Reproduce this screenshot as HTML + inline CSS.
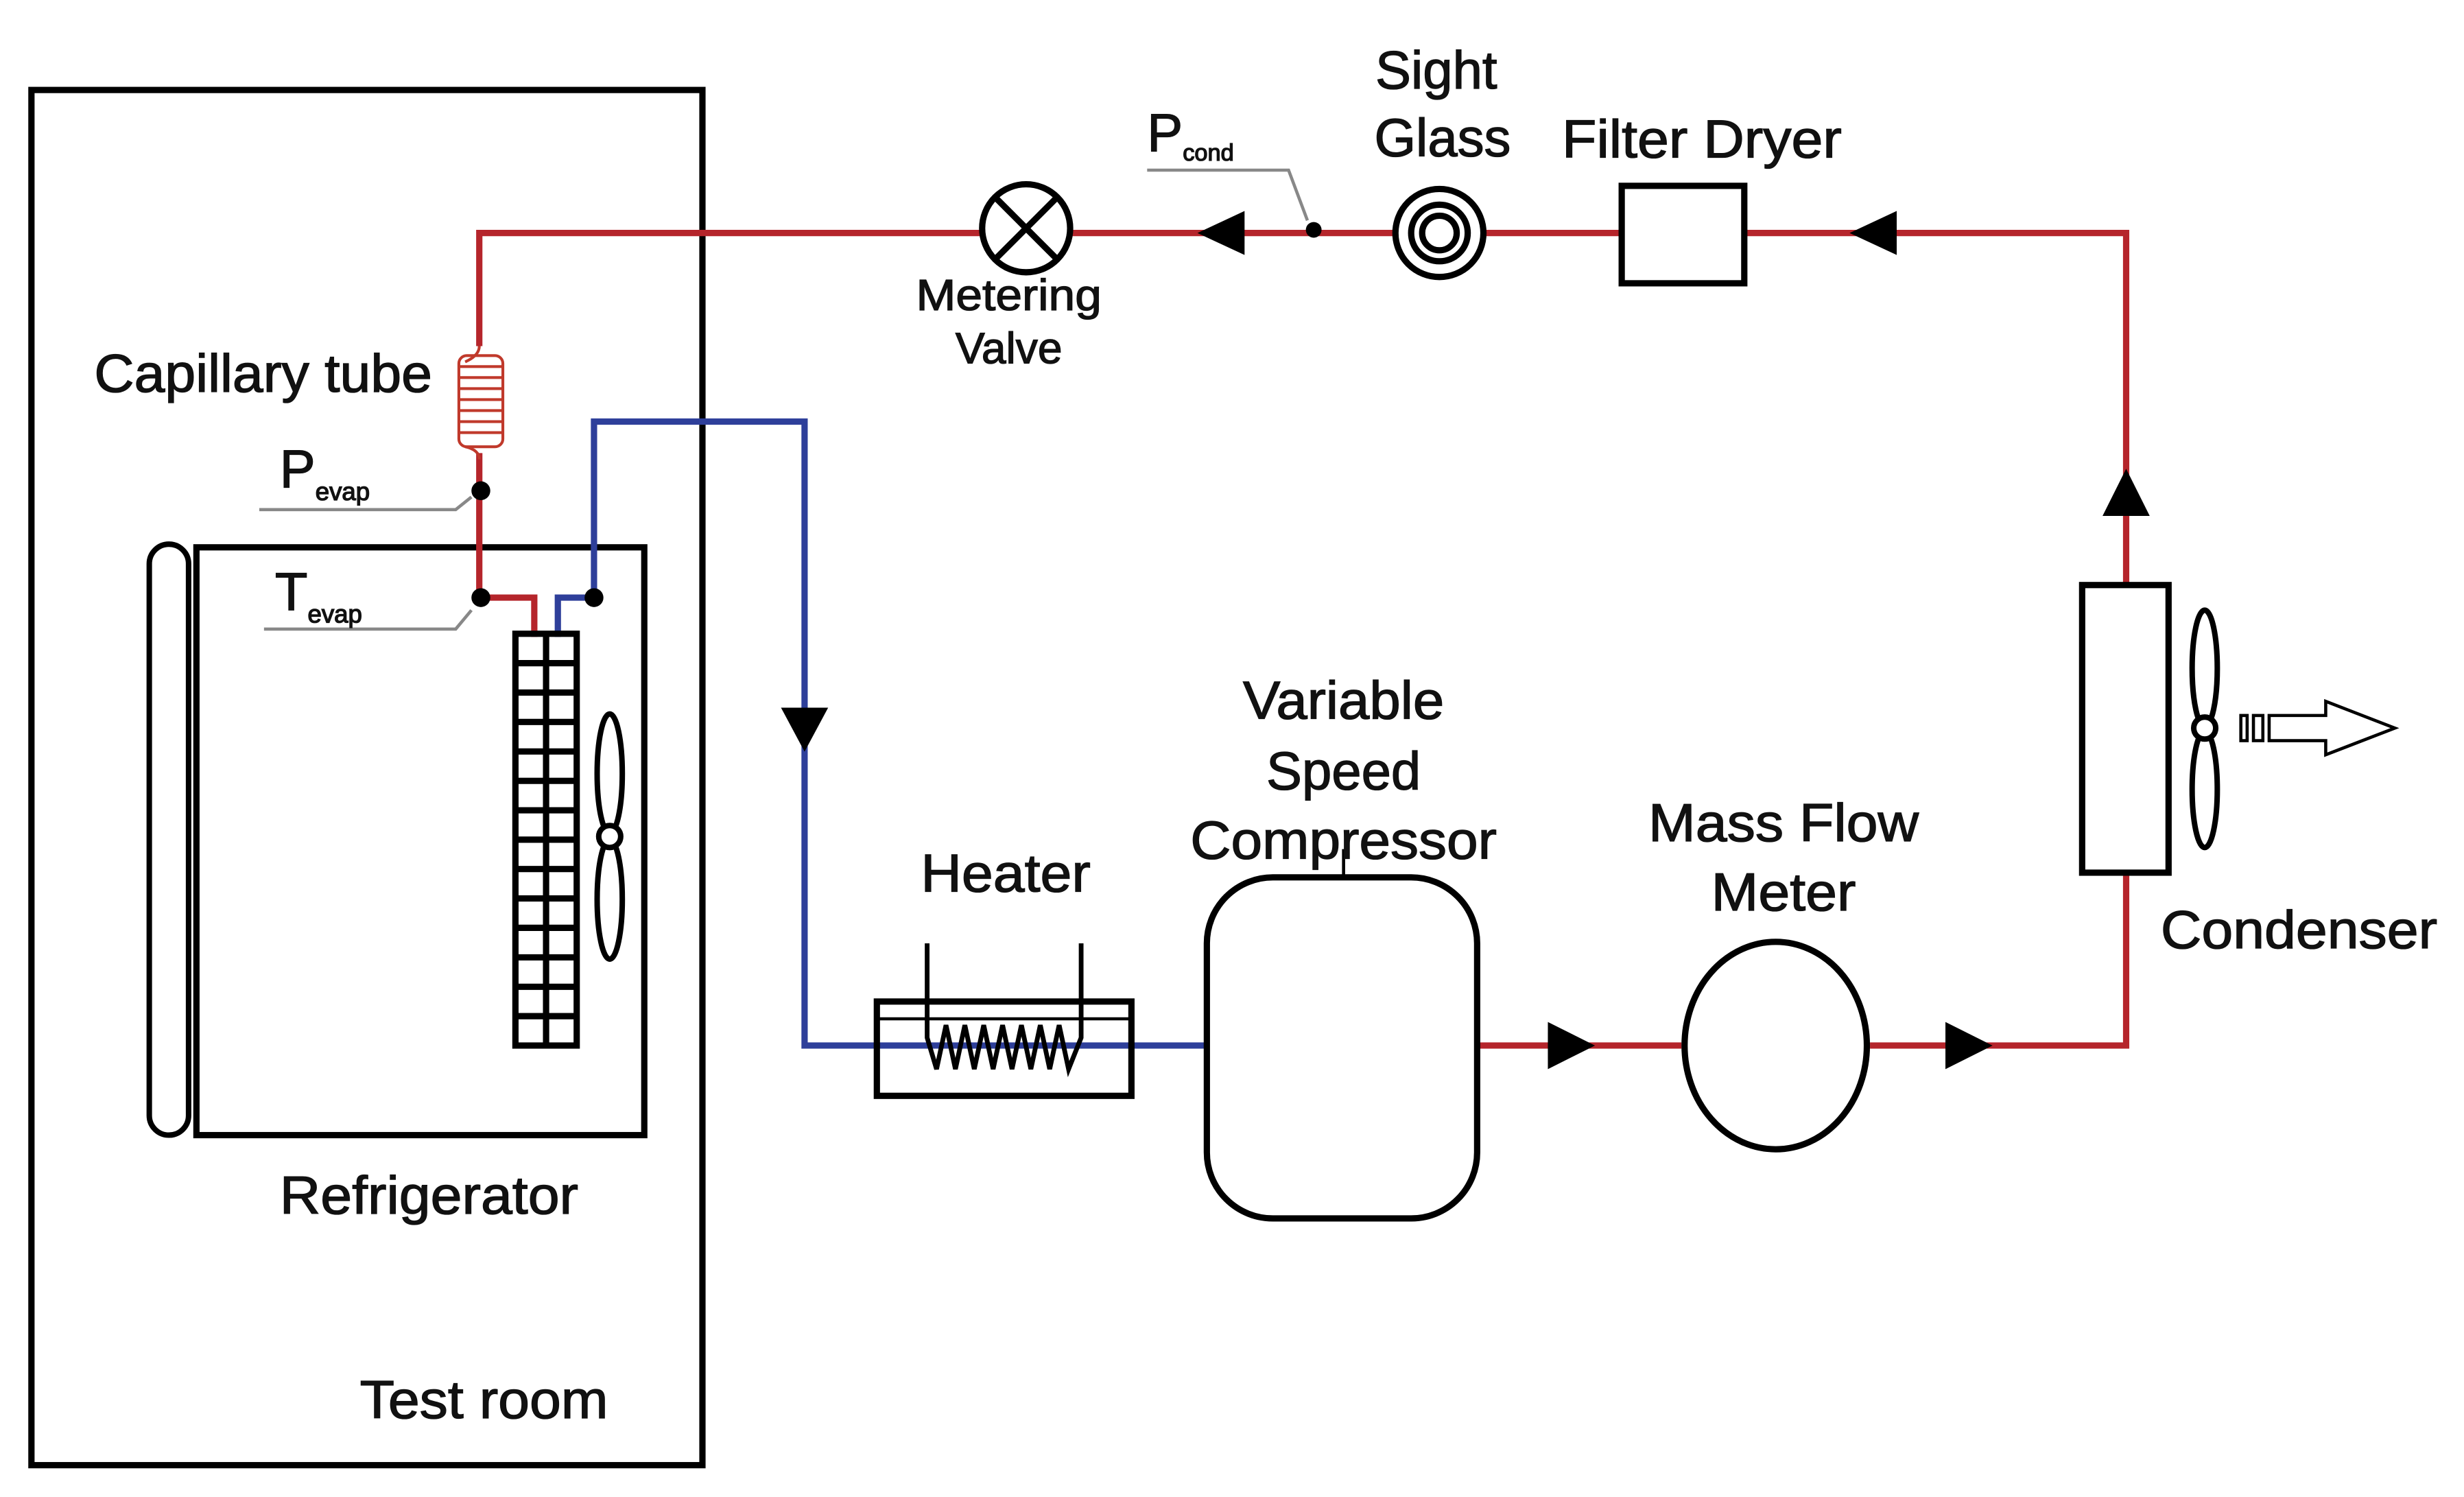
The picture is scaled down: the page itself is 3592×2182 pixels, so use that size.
<!DOCTYPE html>
<html><head><meta charset="utf-8"><style>html,body{margin:0;padding:0;background:#fff}svg{display:block}</style></head>
<body>
<svg width="3592" height="2182" viewBox="0 0 1568 952" xmlns="http://www.w3.org/2000/svg" font-family="Liberation Sans, Arial, sans-serif" fill="none">
<!-- Test room -->
<rect x="20" y="57" width="427" height="875" stroke="#000" stroke-width="4"/>
<!-- refrigerator -->
<rect x="125" y="348" width="285" height="374" stroke="#000" stroke-width="4"/>
<rect x="95" y="346" width="25" height="376" rx="12.5" stroke="#000" stroke-width="3.5"/>
<!-- red pipes -->
<g stroke="#b5252b" stroke-width="4">
<polyline points="305,220 305,148 1353,148 1353,372"/>
<polyline points="1353,555 1353,665 1190,665"/>
<line x1="940" y1="665" x2="1070" y2="665"/>
<polyline points="305,288 305,380 340,380 340,405"/>
</g>
<!-- capillary coil -->
<g stroke="#c0392b" stroke-width="1.8">
<path d="M305,220 Q305,226 296,230"/>
<rect x="292" y="226" width="28" height="58" rx="5"/>
<line x1="292" y1="233" x2="320" y2="233"/><line x1="292" y1="240" x2="320" y2="240"/>
<line x1="292" y1="247" x2="320" y2="247"/><line x1="292" y1="254" x2="320" y2="254"/>
<line x1="292" y1="261" x2="320" y2="261"/><line x1="292" y1="268" x2="320" y2="268"/>
<line x1="292" y1="275" x2="320" y2="275"/>
<path d="M296,284 Q305,286 305,292"/>
</g>
<!-- blue pipes -->
<g stroke="#2e3f9a" stroke-width="4">
<polyline points="378,380 378,268 512,268 512,665 768,665"/>
<polyline points="378,380 355,380 355,405"/>
</g>
<!-- sensor dots -->
<g fill="#000">
<circle cx="306" cy="312" r="6"/><circle cx="306" cy="380" r="6"/><circle cx="378" cy="380" r="6"/><circle cx="836" cy="146" r="5"/>
</g>
<g stroke="#888" stroke-width="2">
<polyline points="165,324 290,324 300,316"/>
<polyline points="168,400 290,400 300,388"/>
<polyline points="730,108 820,108 832,140"/>
</g>
<!-- evaporator grid -->
<rect x="328" y="403" width="39" height="262" stroke="#000" stroke-width="4"/>
<line x1="347.5" y1="403" x2="347.5" y2="665" stroke="#000" stroke-width="4"/>
<g stroke="#000" stroke-width="4">
<line x1="328" y1="421.7" x2="367" y2="421.7"/><line x1="328" y1="440.4" x2="367" y2="440.4"/>
<line x1="328" y1="459.1" x2="367" y2="459.1"/><line x1="328" y1="477.9" x2="367" y2="477.9"/>
<line x1="328" y1="496.6" x2="367" y2="496.6"/><line x1="328" y1="515.3" x2="367" y2="515.3"/>
<line x1="328" y1="534" x2="367" y2="534"/><line x1="328" y1="552.7" x2="367" y2="552.7"/>
<line x1="328" y1="571.4" x2="367" y2="571.4"/><line x1="328" y1="590.1" x2="367" y2="590.1"/>
<line x1="328" y1="608.9" x2="367" y2="608.9"/><line x1="328" y1="627.6" x2="367" y2="627.6"/>
<line x1="328" y1="646.3" x2="367" y2="646.3"/>
</g>
<!-- fridge fan -->
<g stroke="#000" stroke-width="3.5">
<ellipse cx="388" cy="492" rx="8" ry="38"/><ellipse cx="388" cy="572" rx="8" ry="38"/>
<circle cx="388" cy="532" r="7" fill="#fff"/>
</g>
<!-- metering valve -->
<g stroke="#000" stroke-width="4">
<circle cx="653" cy="145" r="28" fill="#fff"/>
<line x1="633" y1="125" x2="673" y2="165"/><line x1="673" y1="125" x2="633" y2="165"/>
</g>
<!-- sight glass -->
<g stroke="#000" stroke-width="4">
<circle cx="916" cy="148" r="28" fill="#fff"/><circle cx="916" cy="148" r="18"/><circle cx="916" cy="148" r="11"/>
</g>
<!-- filter dryer -->
<rect x="1032" y="118" width="78" height="62" stroke="#000" stroke-width="4" fill="#fff"/>
<!-- arrows -->
<g fill="#000">
<polygon points="762,148 792,134 792,162"/>
<polygon points="1177,148 1207,134 1207,162"/>
<polygon points="1353,298 1338,328 1368,328"/>
<polygon points="512,478 497,450 527,450"/>
<polygon points="1015,665 985,650 985,680"/>
<polygon points="1268,665 1238,650 1238,680"/>
</g>
<!-- condenser -->
<rect x="1325" y="372" width="55" height="183" stroke="#000" stroke-width="4" fill="#fff"/>
<g stroke="#000" stroke-width="3.5">
<ellipse cx="1403" cy="425" rx="8" ry="37"/><ellipse cx="1403" cy="502" rx="8" ry="37"/>
<circle cx="1403" cy="463" r="7" fill="#fff"/>
</g>
<g stroke="#000" stroke-width="2">
<rect x="1426" y="455" width="4" height="16"/><rect x="1434" y="455" width="6" height="16"/>
<polygon points="1444,455 1480,455 1480,446 1524,463 1480,480 1480,471 1444,471"/>
</g>
<!-- heater -->
<g stroke="#000" stroke-width="4">
<rect x="558" y="637" width="162" height="60"/>
<line x1="558" y1="648" x2="720" y2="648" stroke-width="2"/>
<polyline points="590,600 590,660 596,680 602,652 608,680 614,652 620,680 626,652 632,680 638,652 644,680 650,652 656,680 662,652 668,680 674,652 680,680 688,660 688,600" stroke-width="3"/>
</g>
<!-- compressor -->
<rect x="768" y="558" width="172" height="217" rx="42" stroke="#000" stroke-width="4" fill="#fff"/>
<line x1="855" y1="540" x2="855" y2="558" stroke="#000" stroke-width="2"/>
<!-- mass flow -->
<ellipse cx="1130" cy="665" rx="58" ry="66" stroke="#000" stroke-width="4" fill="#fff"/>
<!-- text -->
<g fill="#111" stroke="#111" stroke-width="0.6" font-size="34">
<text x="914" y="56" text-anchor="middle">Sight</text>
<text x="918" y="99" text-anchor="middle">Glass</text>
<text x="1083" y="100" text-anchor="middle" textLength="178" lengthAdjust="spacingAndGlyphs">Filter Dryer</text>
<text x="730" y="96">P<tspan font-size="15" dy="6">cond</tspan></text>
<text x="642" y="197" font-size="28" text-anchor="middle" textLength="118" lengthAdjust="spacingAndGlyphs">Metering</text>
<text x="642" y="231" font-size="28" text-anchor="middle">Valve</text>
<text x="60" y="249" textLength="215" lengthAdjust="spacingAndGlyphs">Capillary tube</text>
<text x="178" y="310">P<tspan font-size="16" dy="8">evap</tspan></text>
<text x="175" y="388">T<tspan font-size="16" dy="8">evap</tspan></text>
<text x="855" y="457" text-anchor="middle" textLength="128" lengthAdjust="spacingAndGlyphs">Variable</text>
<text x="855" y="502" text-anchor="middle">Speed</text>
<text x="855" y="546" text-anchor="middle" textLength="195" lengthAdjust="spacingAndGlyphs">Compressor</text>
<text x="640" y="567" text-anchor="middle" textLength="108" lengthAdjust="spacingAndGlyphs">Heater</text>
<text x="1135" y="535" text-anchor="middle" textLength="172" lengthAdjust="spacingAndGlyphs">Mass Flow</text>
<text x="1135" y="579" text-anchor="middle" textLength="92" lengthAdjust="spacingAndGlyphs">Meter</text>
<text x="1463" y="603" text-anchor="middle" textLength="176" lengthAdjust="spacingAndGlyphs">Condenser</text>
<text x="273" y="772" text-anchor="middle" textLength="190" lengthAdjust="spacingAndGlyphs">Refrigerator</text>
<text x="308" y="902" text-anchor="middle" textLength="158" lengthAdjust="spacingAndGlyphs">Test room</text>
</g>
</svg>
</body></html>
